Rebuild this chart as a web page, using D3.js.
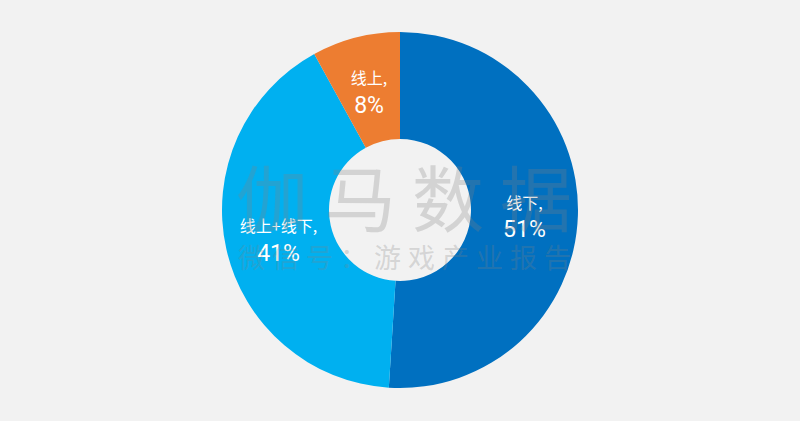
<!DOCTYPE html>
<html><head><meta charset="utf-8">
<script src="https://cdn.jsdelivr.net/npm/d3@7"></script>
<style>html,body{margin:0;padding:0;background:#f2f2f2;}svg{display:block;}</style>
</head><body>
<svg id="c" width="800" height="421"></svg>
<script>
const categories = ["线下", "线上+线下", "线上"];
const values = [51, 41, 8];
const colors = ["#0070c0", "#00b0f0", "#ed7d31"];
const watermark = ["伽马数据", "微信号：游戏产业报告"];

const W = 800, H = 421, cx = 400, cy = 210, rOut = 178, rIn = 71;
const svg = d3.select("#c");
svg.append("rect").attr("width", W).attr("height", H).attr("fill", "#f2f2f2");
const g = svg.append("g").attr("transform", `translate(${cx},${cy})`);
const data = categories.map((c, i) => ({ c, v: values[i], col: colors[i] }));
const pie = d3.pie().value(d => d.v).sort(null);
const arc = d3.arc().innerRadius(rIn).outerRadius(rOut);
const arcs = pie(data);
g.selectAll("path").data(arcs).join("path").attr("d", arc).attr("fill", d => d.data.col);

// watermark
const wm = svg.append("g").attr("fill", "#808080").attr("fill-opacity", 0.27)
  .attr("font-family", "'Noto Sans CJK SC', sans-serif");
wm.append("text").attr("x", 412).attr("y", 226).attr("text-anchor", "middle")
  .attr("font-size", 72).attr("letter-spacing", 16).text(watermark[0]);
wm.append("text").attr("x", 408).attr("y", 268).attr("text-anchor", "middle")
  .attr("font-size", 27).attr("letter-spacing", 7).text(watermark[1]);

// labels
const lab = g.selectAll("g.lab").data(arcs).join("g").attr("class", "lab")
  .attr("transform", d => `translate(${arc.centroid(d)})`);
lab.append("text").attr("y", -12).attr("text-anchor", "middle").attr("dominant-baseline", "central")
  .attr("fill", "#fff").attr("font-size", 16).attr("font-family", "'Noto Sans CJK SC', sans-serif")
  .text(d => d.data.c + ",");
lab.append("text").attr("y", 16).attr("text-anchor", "middle").attr("dominant-baseline", "central")
  .attr("fill", "#fff").attr("font-size", 23).attr("font-family", "Roboto, sans-serif")
  .text(d => d.data.v + "%");
</script>
</body></html>
